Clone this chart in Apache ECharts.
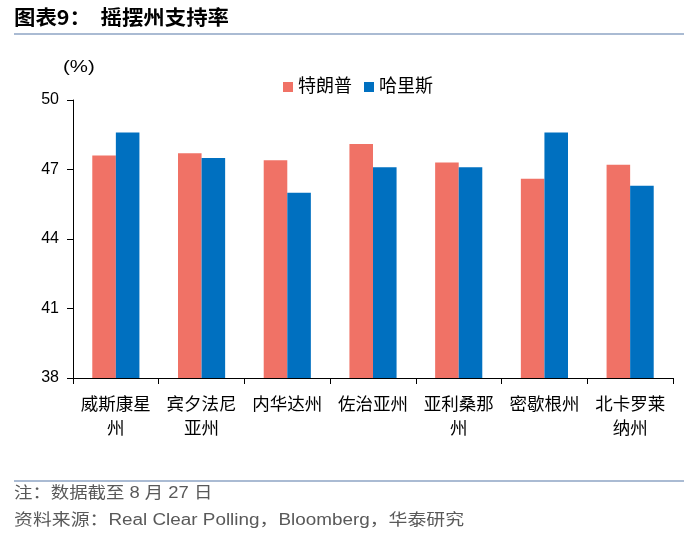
<!DOCTYPE html>
<html><head><meta charset="utf-8">
<script src="https://cdn.jsdelivr.net/npm/echarts@6/dist/echarts.min.js"></script>
<style>html,body{margin:0;padding:0;background:#fff}#c{width:700px;height:541px}</style>
</head><body><div id="c"></div>
<script>
const categories = ["威斯康星\n州", "宾夕法尼\n亚州", "内华达州", "佐治亚州", "亚利桑那\n州", "密歇根州", "北卡罗莱\n纳州"];
const trump = [47.6, 47.7, 47.4, 48.1, 47.3, 46.6, 47.2];
const harris = [48.6, 47.5, 46.0, 47.1, 47.1, 48.6, 46.3];
const yTicks = [38, 41, 44, 47, 50];
const seriesNames = ["特朗普", "哈里斯"];

const cjk = '"Liberation Sans","Noto Sans CJK SC",sans-serif';
const chart = echarts.init(document.getElementById('c'));
chart.setOption({
  animation: false,
  backgroundColor: '#fff',
  graphic: [
    {type: 'text', x: 14, y: 7, scaleX: 1.07, style: {text: '图表9：  摇摆州支持率', font: 'bold 20px "Noto Sans CJK SC",sans-serif', fill: '#000', verticalAlign: 'top'}},
    {type: 'line', shape: {x1: 14, y1: 34, x2: 684, y2: 34}, style: {stroke: '#8EA5C4', lineWidth: 1.5}},
    {type: 'line', shape: {x1: 14, y1: 481, x2: 684, y2: 481}, style: {stroke: '#8EA5C4', lineWidth: 1.5}},
    {type: 'text', x: 14, y: 486, scaleX: 1.15, style: {text: '注：数据截至 8 月 27 日', font: '16px ' + cjk, fill: '#595959', verticalAlign: 'top'}},
    {type: 'text', x: 14, y: 513, scaleX: 1.18, style: {text: '资料来源：Real Clear Polling，Bloomberg，华泰研究', font: '16px ' + cjk, fill: '#595959', verticalAlign: 'top'}},
    {type: 'text', x: 63, y: 59, scaleX: 1.2, style: {text: '(%)', font: '17px "Liberation Sans",sans-serif', fill: '#000', verticalAlign: 'top'}}
  ],
  legend: {
    data: seriesNames, top: 73, left: 278, itemWidth: 10, itemHeight: 10, itemGap: 12,
    icon: 'rect',
    textStyle: {fontFamily: cjk, fontSize: 18, color: '#000'}
  },
  grid: {left: 73, right: 27, top: 100, bottom: 163},
  xAxis: {
    type: 'category', data: categories,
    axisLine: {lineStyle: {color: '#000', width: 1}},
    axisTick: {show: true, length: 6, lineStyle: {color: '#000'}},
    axisLabel: {fontFamily: cjk, fontSize: 17.5, color: '#000', margin: 15, lineHeight: 24, interval: 0}
  },
  yAxis: {
    type: 'value', min: 38, max: 50, interval: 3,
    axisLine: {show: true, lineStyle: {color: '#000', width: 1}},
    axisTick: {show: true, length: 6, lineStyle: {color: '#000'}},
    splitLine: {show: false},
    axisLabel: {fontFamily: '"Liberation Sans",sans-serif', fontSize: 16, color: '#000', margin: 14,
      formatter: v => yTicks.includes(v) ? String(v) : ''}
  },
  series: [
    {name: seriesNames[0], type: 'bar', data: trump, itemStyle: {color: '#F07266'}, barGap: '0%', barCategoryGap: '45%'},
    {name: seriesNames[1], type: 'bar', data: harris, itemStyle: {color: '#0070C0'}, barGap: '0%', barCategoryGap: '45%'}
  ]
});
</script></body></html>
